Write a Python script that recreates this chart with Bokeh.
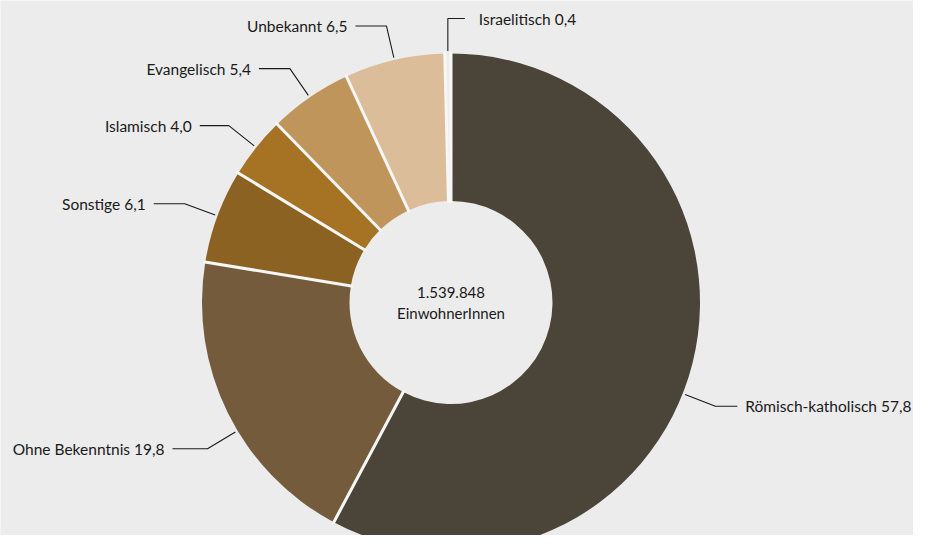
import math
from bokeh.plotting import figure
from bokeh.models import Range1d, ColumnDataSource
from bokeh.core.properties import value
from bokeh.embed import file_html
from bokeh.resources import INLINE

# ---- data ----
categories = ["Römisch-katholisch", "Ohne Bekenntnis", "Sonstige", "Islamisch",
              "Evangelisch", "Unbekannt", "Israelitisch"]
shares = [57.8, 19.8, 6.1, 4.0, 5.4, 6.5, 0.4]
center_lines = ["1.539.848", "EinwohnerInnen"]

# ---- style / layout ----
colors = ["#4b4438", "#735b3b", "#8c6223", "#a67325", "#c0955b", "#dbbd99", "#f0ece6"]
BG = "#ececec"
FONT = "Lato"
CX, CY = 450.5, 249.0
R_IN, R_OUT = 101.5, 249.0
R_LEAD1, R_LEAD2 = 251.5, 284.0
leader_shift_deg = [-7.4, 4.7, 0, 0, 0, 0, 0]
label_side = [1, -1, -1, -1, -1, -1, 1]
horiz_len = [22, 35, 31, 29, 31, 31, 17]
text_gap = [8, 8, 8, 8, 8, 8, 14]

p = figure(width=913, height=535, output_backend="svg", toolbar_location=None,
           x_range=Range1d(0, 913), y_range=Range1d(16, 551),
           min_border=0, background_fill_color=BG, border_fill_color=BG)
p.axis.visible = False
p.grid.visible = False
p.outline_line_color = None

total = sum(shares)
starts, ends, mids = [], [], []
cum = 0.0
for v in shares:
    a0 = math.pi / 2 - 2 * math.pi * cum / total
    cum += v
    a1 = math.pi / 2 - 2 * math.pi * cum / total
    starts.append(a1)
    ends.append(a0)
    mids.append((a0 + a1) / 2)

src = ColumnDataSource(dict(start=starts, end=ends, color=colors))
p.annular_wedge(x=CX, y=CY, inner_radius=R_IN, outer_radius=R_OUT,
                start_angle="start", end_angle="end", fill_color="color",
                line_color=None, source=src)

# separators
bx0, by0, bx1, by1 = [], [], [], []
for a in ends:
    bx0.append(CX + (R_IN - 2) * math.cos(a))
    by0.append(CY + (R_IN - 2) * math.sin(a))
    bx1.append(CX + (R_OUT + 2) * math.cos(a))
    by1.append(CY + (R_OUT + 2) * math.sin(a))
p.segment(x0=bx0, y0=by0, x1=bx1, y1=by1, line_color="#f7f7f7", line_width=3)

# leaders and labels
for i, (cat, v) in enumerate(zip(categories, shares)):
    a = mids[i] + math.radians(leader_shift_deg[i])
    x1 = CX + R_LEAD1 * math.cos(a)
    y1 = CY + R_LEAD1 * math.sin(a)
    x2 = CX + R_LEAD2 * math.cos(a)
    y2 = CY + R_LEAD2 * math.sin(a)
    if i == len(categories) - 1:
        x2 = x1
    x3 = x2 + label_side[i] * horiz_len[i]
    p.line([x1, x2, x3], [y1, y2, y2], line_color="#1a1a1a", line_width=1.1)
    txt = f"{cat} {v:.1f}".replace(".", ",")
    p.text(x=[x3 + label_side[i] * text_gap[i]], y=[y2], text=[txt],
           text_align="left" if label_side[i] > 0 else "right",
           text_baseline="middle", text_font=value(FONT),
           text_font_size="15.5px", text_color="#1a1a1a")

p.text(x=[CX, CX], y=[CY + 10.5, CY - 10], text=center_lines,
       text_align="center", text_baseline="middle", text_font=value(FONT),
       text_font_size="15px", text_color="#1a1a1a")

open("out.html", "w").write(file_html(p, INLINE))
